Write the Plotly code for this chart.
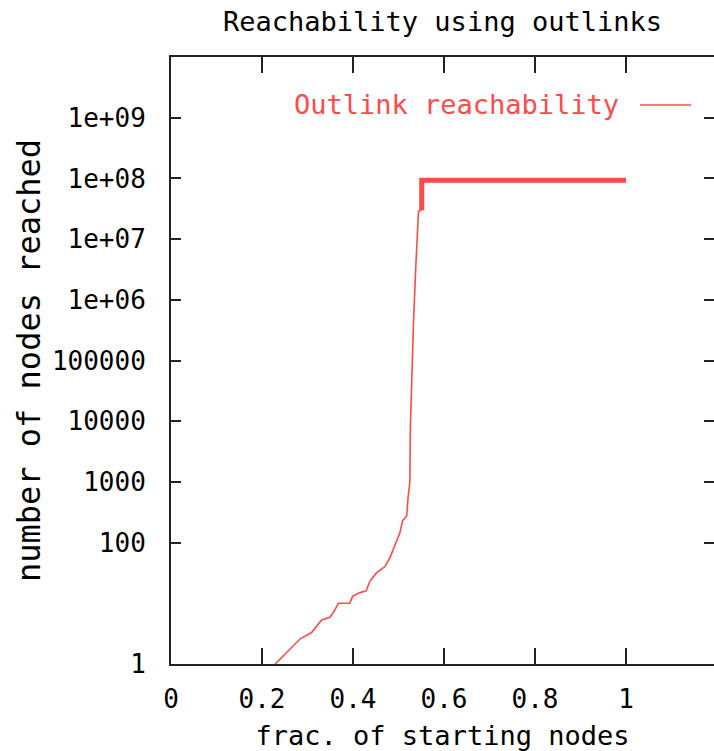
import plotly.graph_objects as go

# ---- data ----
frac_thin = [0.229, 0.262, 0.284, 0.309, 0.324, 0.331, 0.349, 0.357, 0.368, 0.393,
             0.399, 0.415, 0.429, 0.437, 0.452, 0.470, 0.481, 0.492, 0.503, 0.509,
             0.518, 0.521, 0.525, 0.526, 0.530, 0.533, 0.538, 0.544, 0.551]
nodes_thin = [1, 1.8, 2.6, 3.3, 4.6, 5.3, 5.9, 7.1, 10, 10,
              13, 15, 16, 23, 32, 40, 56, 93, 145, 230,
              275, 550, 1000, 7800, 90000, 440000, 3.5e6, 2.9e7, 3e7]
frac_thick = [0.551, 0.551, 1.0]
nodes_thick = [3e7, 9.3e7, 9.3e7]

x_tickvals = [0, 0.2, 0.4, 0.6, 0.8, 1.0]
x_ticktext = ["0", "0.2", "0.4", "0.6", "0.8", "1"]
y_tickvals = [1, 100, 1e3, 1e4, 1e5, 1e6, 1e7, 1e8, 1e9]
y_ticktext = ["1", "100", "1000", "10000", "100000", "1e+06", "1e+07", "1e+08", "1e+09"]

series_name = "Outlink reachability"
title_text = "Reachability using outlinks"
x_title = "frac. of starting nodes"
y_title = "number of nodes reached"

RED = "#ff4a4a"
FONT = "DejaVu Sans Mono"

fig = go.Figure()
fig.add_trace(go.Scatter(x=frac_thin, y=nodes_thin, mode="lines", name=series_name,
                         line=dict(color=RED, width=1.6), showlegend=False))
fig.add_trace(go.Scatter(x=frac_thick, y=nodes_thick, mode="lines", name=series_name,
                         line=dict(color=RED, width=5), showlegend=False))
# invisible trace so the right-hand tick axis is drawn
fig.add_trace(go.Scatter(x=frac_thick, y=nodes_thick, mode="lines", yaxis="y2",
                         line=dict(color="rgba(0,0,0,0)", width=0), showlegend=False,
                         hoverinfo="skip"))

W, H = 714, 751
L, R, T, B = 171, 0, 57, 87

fig.update_layout(
    width=W, height=H,
    margin=dict(l=L, r=R, t=T, b=B),
    paper_bgcolor="white", plot_bgcolor="white",
    font=dict(family=FONT, size=26, color="black"),
    title=dict(text=title_text, x=0.5, xanchor="center", xref="paper",
               y=1 - 22 / H, yanchor="middle", font=dict(family=FONT, size=27)),
    xaxis=dict(range=[0, (W - L) / 455.0], tickvals=x_tickvals, ticktext=x_ticktext,
               ticks="inside", ticklen=16, tickwidth=2, tickcolor="#222",
               showline=True, linecolor="#222", linewidth=2, mirror="ticks",
               showgrid=False, zeroline=False, ticklabelstandoff=11,
               tickfont=dict(family=FONT, size=26),
               title=dict(text=x_title, font=dict(family=FONT, size=27), standoff=14)),
    yaxis=dict(type="log", range=[0, 10], tickvals=y_tickvals, ticktext=y_ticktext,
               ticks="inside", ticklen=10, tickwidth=2, tickcolor="#222",
               showline=True, linecolor="#222", linewidth=2, mirror=False,
               showgrid=False, zeroline=False, ticklabelstandoff=18,
               tickfont=dict(family=FONT, size=26),
               title=dict(text=y_title, font=dict(family=FONT, size=32), standoff=2)),
    yaxis2=dict(type="log", range=[0, 10], overlaying="y", side="right",
                tickvals=y_tickvals, ticks="inside", ticklen=10, tickwidth=2,
                tickcolor="#222", showticklabels=False, showline=False,
                showgrid=False, zeroline=False),
    showlegend=False,
)

# gnuplot-style key: text followed by the line sample
fig.add_annotation(text=series_name, xref="paper", yref="paper",
                   x=(621 - L) / (W - L), y=1 - (105 - T) / (H - T - B),
                   xanchor="right", yanchor="middle", showarrow=False,
                   font=dict(family=FONT, size=27, color=RED))
fig.add_shape(type="line", xref="paper", yref="paper",
              x0=(640 - L) / (W - L), x1=(691 - L) / (W - L),
              y0=1 - (105 - T) / (H - T - B), y1=1 - (105 - T) / (H - T - B),
              line=dict(color=RED, width=1.6))

fig.write_html("out.html")
